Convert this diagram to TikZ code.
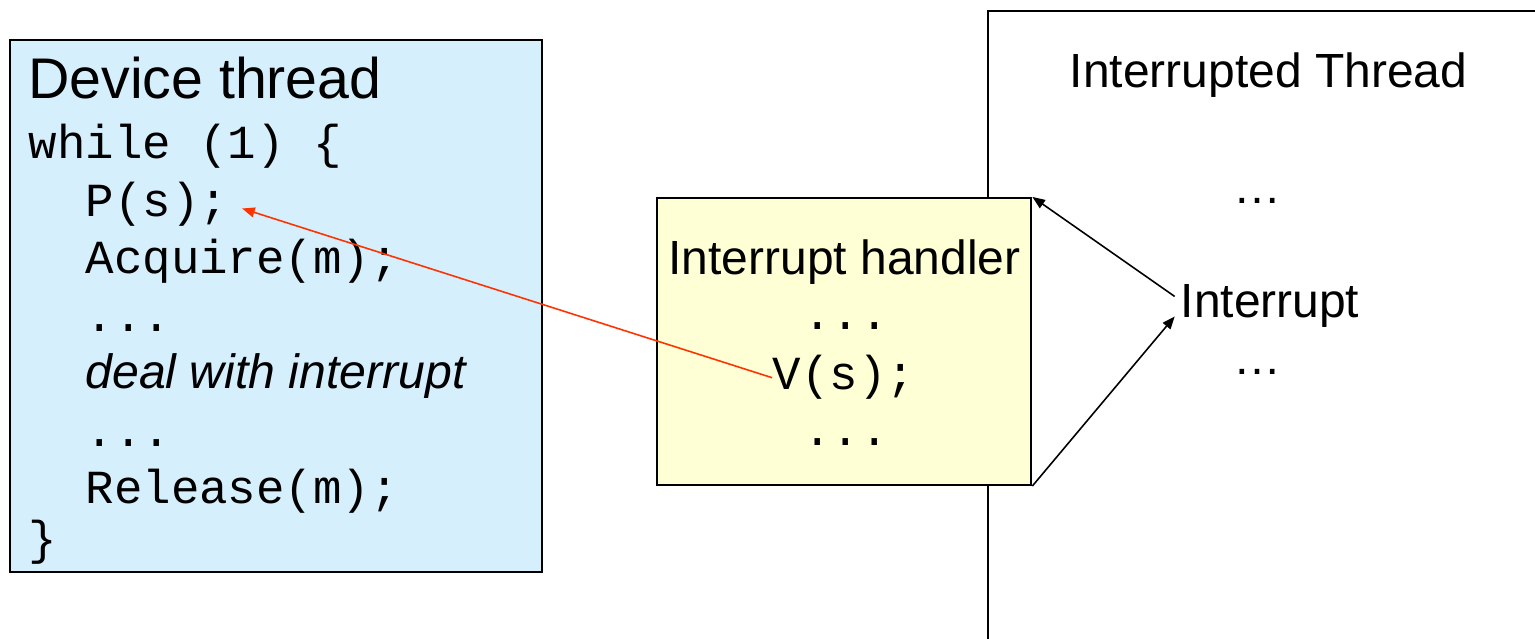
\documentclass[tikz,border=0pt]{standalone}
\usepackage{fontspec}
\setmainfont{Liberation Sans}
\setmonofont{Liberation Mono}
\usetikzlibrary{arrows.meta}

\newcommand{\codefont}{\fontsize{13.5}{16}\selectfont\ttfamily}
\newcommand{\dealfont}{\fontsize{13.7}{16}\selectfont\rmfamily\itshape}
\newcommand{\ind}{\hphantom{\codefont xx}}
\definecolor{devblue}{HTML}{D5EFFD}
\definecolor{hdlyellow}{HTML}{FFFFD5}
\definecolor{sigred}{HTML}{FF3300}

\tikzset{
  box/.style={draw=black, line width=0.6pt, inner sep=0pt},
  codeline/.style={font=\codefont, inner sep=0pt, anchor=base west},
  txt/.style={font=\fontsize{13.65}{16}\selectfont, inner sep=0pt, anchor=base},
  arr/.style={-{Triangle[length=3.6pt,width=2.8pt]}, line width=0.45pt},
}

\begin{document}
\begin{tikzpicture}
\useasboundingbox (0,0) rectangle (15.35,6.39);

% interrupted thread, runs off the page
\draw[line width=0.6pt] (9.88,-0.3) rectangle (15.8,6.28);
\node[txt] (ithr) at (12.685,5.51) {Interrupted Thread};
\node[txt] (tdots1) at (12.57,4.35) {…};
\node[txt, inner sep=1.5pt] (intr) at (12.70,3.21) {Interrupt};
\node[txt] (tdots2) at (12.57,2.64) {…};

% interrupt handler
\node[box, fill=hdlyellow, minimum width=3.74cm, minimum height=2.87cm] (hdl) at (8.443,2.975) {};
\node[txt] (hname) at (8.445,3.64) {Interrupt handler};
\node[codeline, anchor=base] (hdots1) at (8.46,3.09) {...};
\node[codeline, anchor=base] (vs) at (8.44,2.49) {V(s);};
\node[codeline, anchor=base] (hdots2) at (8.46,1.93) {...};

% device thread
\node[box, fill=devblue, minimum width=5.32cm, minimum height=5.32cm] (dev) at (2.76,3.33) {};
\node[txt, anchor=base west, font=\fontsize{16.3}{19}\selectfont] (dname) at (0.275,5.40) {Device thread};
\foreach \i/\txt in {0/{while (1) \{}, 1/{\ind P(s);}, 2/{\ind Acquire(m);}, 3/{\ind ...},
    4/{\ind\dealfont deal with interrupt}, 5/{\ind ...}, 6/{\ind Release(m);}}
  \node[codeline] (line\i) at (0.28,4.80-0.575*\i) {\txt};
\node[codeline] (line7) at (0.28,0.84) {\}};

% connectors
\draw[arr] ([yshift=1mm]intr.west) -- (hdl.north east);
\draw[arr] (hdl.south east) -- ([yshift=-1mm]intr.west);
\draw[arr, sigred, shorten >=4pt] (vs.west) -- (line1.east);
\end{tikzpicture}
\end{document}
